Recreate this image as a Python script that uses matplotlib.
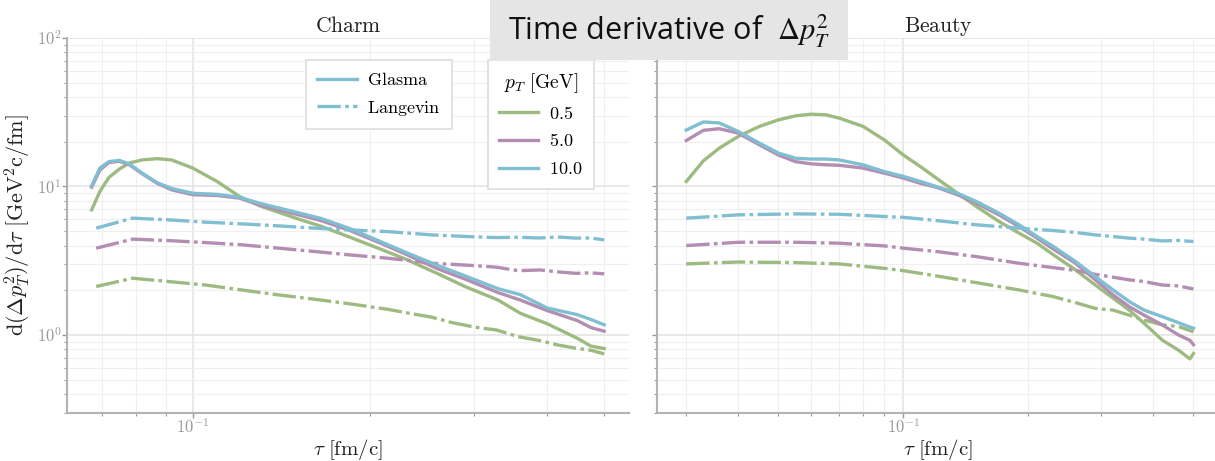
import matplotlib
matplotlib.use("Agg")
import numpy as np
import matplotlib.pyplot as plt
from matplotlib.lines import Line2D
from matplotlib.patches import Rectangle
from matplotlib.ticker import FuncFormatter, NullFormatter, LogLocator

plt.rcParams['mathtext.fontset'] = 'cm'
plt.rcParams['font.family'] = 'DejaVu Sans'

#-------------------------------------------------------------------------------
# Charm : d(Delta p_T^2)/dtau, Glasma (trait plein) et Langevin (tirets-points)
#-------------------------------------------------------------------------------
tau_c_glasma = [0.0673, 0.0695, 0.072, 0.075, 0.078, 0.082, 0.087, 0.092, 0.1,
                0.11, 0.12, 0.13, 0.15, 0.165, 0.185, 0.21, 0.23, 0.26, 0.29,
                0.33, 0.36, 0.4, 0.45, 0.475, 0.5]
c_glasma_05  = [6.96, 9.25, 11.5, 13.1, 14.4, 15.1, 15.4, 15.1, 13.3, 10.8, 8.57,
                7.4, 6.1, 5.4, 4.55, 3.74, 3.24, 2.6, 2.12, 1.72, 1.40, 1.19,
                0.95, 0.84, 0.81]
c_glasma_5   = [9.9, 12.9, 14.5, 14.8, 14.0, 12.2, 10.5, 9.5, 8.8, 8.7, 8.35,
                7.5, 6.5, 5.9, 5.05, 4.1, 3.5, 2.8, 2.38, 1.93, 1.72, 1.46,
                1.25, 1.12, 1.06]
c_glasma_10  = [10.1, 13.3, 14.7, 15.0, 14.2, 12.3, 10.6, 9.7, 9.0, 8.85, 8.45,
                7.7, 6.7, 6.1, 5.2, 4.2, 3.6, 2.95, 2.5, 2.05, 1.87, 1.52,
                1.37, 1.27, 1.17]

tau_c_lang   = [0.0685, 0.079, 0.091, 0.105, 0.121, 0.14, 0.161, 0.185, 0.214,
                0.233, 0.254, 0.276, 0.301, 0.328, 0.357, 0.389, 0.417, 0.448,
                0.474, 0.5]
c_lang_05    = [2.12, 2.41, 2.29, 2.17, 2.01, 1.86, 1.74, 1.62, 1.49, 1.40, 1.32,
                1.21, 1.13, 1.08, 0.974, 0.916, 0.856, 0.813, 0.79, 0.745]
c_lang_5     = [3.84, 4.42, 4.32, 4.19, 4.05, 3.84, 3.65, 3.46, 3.29, 3.17, 3.04,
                2.99, 2.93, 2.86, 2.71, 2.74, 2.66, 2.6, 2.62, 2.58]
c_lang_10    = [5.24, 6.12, 5.96, 5.75, 5.6, 5.43, 5.24, 5.1, 4.97, 4.85, 4.72,
                4.65, 4.58, 4.53, 4.55, 4.5, 4.57, 4.49, 4.5, 4.37]

#-------------------------------------------------------------------------------
# Beauty
#-------------------------------------------------------------------------------
tau_b_glasma = [0.03, 0.033, 0.036, 0.04, 0.045, 0.05, 0.055, 0.06, 0.065, 0.07,
                0.08, 0.09, 0.1, 0.11, 0.12, 0.135, 0.15, 0.17, 0.19, 0.21,
                0.23, 0.26, 0.29, 0.32, 0.35, 0.38, 0.42, 0.46, 0.49, 0.5]
b_glasma_05  = [10.8, 14.9, 18.1, 21.7, 25.4, 28.1, 29.9, 30.7, 30.4, 28.9, 25.4,
                20.6, 16.3, 13.6, 11.4, 9.02, 7.33, 5.81, 4.85, 4.15, 3.46, 2.74,
                2.17, 1.77, 1.47, 1.2, 0.925, 0.79, 0.69, 0.75]
b_glasma_5   = [20.4, 23.9, 24.5, 22.9, 19.1, 16.3, 14.7, 14.2, 14.0, 13.9, 13.3,
                12.3, 11.4, 10.5, 9.9, 8.8, 7.72, 6.44, 5.37, 4.49, 3.78, 3.04,
                2.35, 1.86, 1.55, 1.36, 1.17, 1.0, 0.92, 0.86]
b_glasma_10  = [24.0, 27.2, 26.8, 23.5, 19.6, 16.8, 15.5, 15.3, 15.3, 15.1, 14.0,
                12.6, 11.7, 10.8, 10.0, 9.0, 7.92, 6.61, 5.52, 4.6, 3.94, 3.12,
                2.47, 2.01, 1.68, 1.47, 1.33, 1.21, 1.13, 1.11]

tau_b_lang   = [0.03, 0.04, 0.055, 0.07, 0.09, 0.1, 0.12, 0.15, 0.19, 0.23, 0.26,
                0.29, 0.32, 0.35, 0.38, 0.42, 0.46, 0.5]
b_lang_05    = [3.01, 3.1, 3.07, 3.01, 2.81, 2.71, 2.5, 2.25, 2.01, 1.81, 1.65,
                1.51, 1.47, 1.36, 1.26, 1.17, 1.14, 1.05]
b_lang_5     = [4.0, 4.21, 4.21, 4.15, 3.98, 3.84, 3.65, 3.37, 3.04, 2.84, 2.72,
                2.56, 2.45, 2.35, 2.29, 2.17, 2.14, 2.04]
b_lang_10    = [6.12, 6.44, 6.54, 6.5, 6.28, 6.2, 5.9, 5.52, 5.24, 5.05, 4.9,
                4.72, 4.6, 4.49, 4.42, 4.3, 4.33, 4.26]

pT_labels = ['0.5', '5.0', '10.0']
couleurs  = ['#9dbb80', '#b48db3', '#80bed2']

#-------------------------------------------------------------------------------
# Figure
#-------------------------------------------------------------------------------
fig = plt.figure(figsize=(12.15, 4.61), dpi=100)
ax1 = fig.add_axes([0.0551, 0.1041, 0.4626, 0.8134])
ax2 = fig.add_axes([0.5407, 0.1041, 0.4626, 0.8134], sharey=ax1)

lw = 2.4
tiret_point = (7.0, 1.3, 1.1, 1.3)

donnees = [
    (ax1, tau_c_glasma, [c_glasma_05, c_glasma_5, c_glasma_10],
          tau_c_lang,   [c_lang_05, c_lang_5, c_lang_10]),
    (ax2, tau_b_glasma, [b_glasma_05, b_glasma_5, b_glasma_10],
          tau_b_lang,   [b_lang_05, b_lang_5, b_lang_10]),
]
for ax, tg, glasma, tl, lang in donnees:
    for k in range(3):
        ax.plot(tl, lang[k], color=couleurs[k], lw=lw, dashes=tiret_point)
        ax.plot(tg, glasma[k], '-', color=couleurs[k], lw=lw)

def puissance(v, pos):
    return r'$10^{%d}$' % round(np.log10(v))

for ax in (ax1, ax2):
    ax.set_xscale('log')
    ax.set_yscale('log')
    ax.grid(True, which='major', color='#e2e2e2', lw=1.1)
    ax.grid(True, which='minor', color='#f0f0f0', lw=0.9)
    ax.set_axisbelow(True)
    for s in ['top', 'right']:
        ax.spines[s].set_visible(False)
    for s in ['left', 'bottom']:
        ax.spines[s].set_color('#b3b3b3')
        ax.spines[s].set_linewidth(1.5)
    ax.tick_params(which='both', colors='#999999', labelsize=12, direction='out')
    ax.tick_params(which='major', length=3.5, width=1, pad=0.5)
    ax.tick_params(which='minor', length=2.5, width=0.8)
    ax.xaxis.set_major_formatter(FuncFormatter(puissance))
    ax.xaxis.set_minor_formatter(NullFormatter())
    ax.yaxis.set_minor_locator(LogLocator(base=10, subs=np.arange(2, 10)))
    ax.set_xlabel(r'$\tau\ [\mathrm{fm/c}]$', fontsize=15, color='#222222')
    ax.xaxis.set_label_coords(0.5, -0.064)

ax1.yaxis.set_major_formatter(FuncFormatter(puissance))
ax1.yaxis.set_minor_formatter(NullFormatter())
ax1.set_ylim(0.298, 100)
ax1.set_xlim(0.0611, 0.551)
ax2.set_xlim(0.0255, 0.576)
ax2.tick_params(labelleft=False)

ax1.set_ylabel(r'$\mathrm{d}(\Delta p_T^2)/\mathrm{d}\tau\ [\mathrm{GeV}^2\mathrm{c}/\mathrm{fm}]$',
               fontsize=16, color='#222222')
ax1.yaxis.set_label_coords(-0.06, 0.5)
ax1.set_title(r'$\mathrm{Charm}$', fontsize=15.5, color='#222222', pad=4)
ax2.set_title(r'$\mathrm{Beauty}$', fontsize=15.5, color='#222222', pad=4)

#-------------------------------------------------------------------------------
# Légendes
#-------------------------------------------------------------------------------
options = dict(loc='upper left', bbox_transform=fig.transFigure, borderaxespad=0,
               fontsize=13, fancybox=False, edgecolor='#dddddd', framealpha=1,
               handlelength=2.2, handletextpad=0.6, labelspacing=0.55,
               borderpad=0.6)

poignees1 = [Line2D([], [], color=couleurs[2], lw=lw, ls='-'),
             Line2D([], [], color=couleurs[2], lw=lw, dashes=tiret_point)]
leg1 = ax1.legend(poignees1, [r'$\mathrm{Glasma}$', r'$\mathrm{Langevin}$'],
                  bbox_to_anchor=(0.2519, 0.8698), **options)
leg1.get_frame().set_linewidth(1.2)
ax1.add_artist(leg1)

poignees2 = [Line2D([], [], color=c, lw=lw) for c in couleurs]
leg2 = ax1.legend(poignees2, [r'$%s$' % p for p in pT_labels],
                  title=r'$p_T\ [\mathrm{GeV}]$', title_fontsize=14,
                  bbox_to_anchor=(0.4016, 0.8698), **options)
leg2.get_frame().set_linewidth(1.2)

#-------------------------------------------------------------------------------
# Bandeau de titre
#-------------------------------------------------------------------------------
fig.patches.append(Rectangle((490/1215, 1 - 60/461), 358/1215, 60/461,
                             transform=fig.transFigure, facecolor='#e5e5e5',
                             edgecolor='none', zorder=5))
fig.text(669/1215, 1 - 31/461, r'Time derivative of  $\Delta p_T^2$',
         family='Open Sans', fontsize=22, math_fontfamily='stix',
         ha='center', va='center', zorder=6, color='#111111')

fig.savefig('out.png', dpi=100)
